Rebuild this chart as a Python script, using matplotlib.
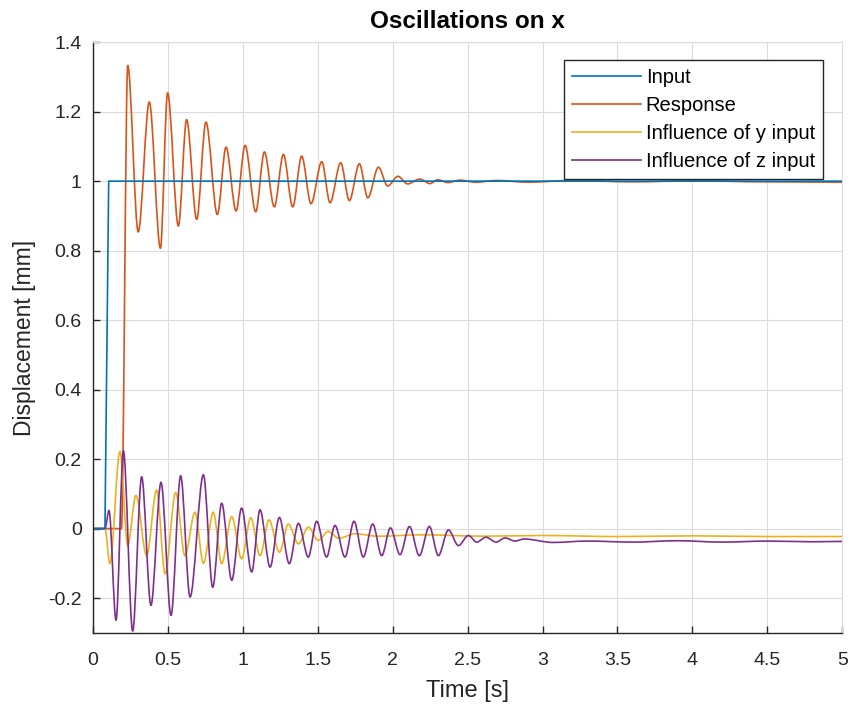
import matplotlib
matplotlib.use("Agg")
import matplotlib.pyplot as plt
from matplotlib.path import Path
from matplotlib.patches import PathPatch
from matplotlib.lines import Line2D

# values (extrema of each trace)
t_input = [0, 0.08, 0.105, 5]
x_input = [0, 0, 1, 1]

t_resp = [0, 0.19, 0.232, 0.302, 0.376, 0.45, 0.498, 0.570, 0.625, 0.692, 0.754, 0.830,
          0.888, 0.955, 1.015, 1.086, 1.144, 1.21, 1.271, 1.333, 1.393, 1.455, 1.527,
          1.582, 1.653, 1.711, 1.778, 1.834, 1.905, 1.967, 2.035, 2.10, 2.18, 2.25,
          2.30, 2.37, 2.45, 2.55, 2.7, 2.9, 3.2, 3.6, 4.0, 4.5, 5.0]
x_resp = [0, 0, 1.333, 0.854, 1.228, 0.807, 1.254, 0.871, 1.177, 0.890, 1.170, 0.904,
          1.098, 0.914, 1.103, 0.912, 1.084, 0.926, 1.077, 0.926, 1.072, 0.935, 1.056,
          0.938, 1.053, 0.944, 1.050, 0.952, 1.040, 0.986, 1.014, 0.992, 1.006, 0.993,
          1.004, 0.996, 1.003, 0.997, 1.002, 0.997, 1.002, 0.998, 1.001, 0.998, 0.997]

t_yin = [0, 0.08, 0.113, 0.18, 0.232, 0.287, 0.358, 0.425, 0.481, 0.552, 0.614, 0.681,
         0.737, 0.803, 0.859, 0.926, 0.992, 1.053, 1.115, 1.175, 1.244, 1.304, 1.371,
         1.437, 1.504, 1.57, 1.64, 1.75, 1.9, 2.2, 2.6, 3.0, 3.5, 4.0, 4.5, 5.0]
x_yin = [0, 0, -0.101, 0.222, -0.049, 0.095, -0.078, 0.111, -0.130, 0.104, -0.078, 0.047,
         -0.100, 0.047, -0.101, 0.034, -0.087, 0.031, -0.078, 0.025, -0.068, 0.013, -0.044,
         0.004, -0.034, -0.008, -0.028, -0.015, -0.022, -0.018, -0.022, -0.020, -0.023,
         -0.021, -0.023, -0.023]

t_zin = [0, 0.08, 0.107, 0.154, 0.203, 0.265, 0.325, 0.387, 0.454, 0.521, 0.585, 0.648,
         0.737, 0.799, 0.859, 0.926, 0.992, 1.059, 1.115, 1.182, 1.244, 1.310, 1.371,
         1.437, 1.493, 1.559, 1.615, 1.682, 1.742, 1.804, 1.867, 1.927, 1.985, 2.049,
         2.112, 2.178, 2.245, 2.305, 2.372, 2.439, 2.505, 2.561, 2.623, 2.69, 2.75,
         2.817, 2.877, 3.07, 3.3, 3.6, 3.9, 4.2, 4.5, 4.8, 5.0]
x_zin = [0, 0, 0.052, -0.264, 0.224, -0.295, 0.149, -0.221, 0.133, -0.250, 0.152, -0.197,
         0.155, -0.169, 0.073, -0.149, 0.059, -0.125, 0.054, -0.111, 0.032, -0.101, 0.015,
         -0.082, 0.021, -0.082, 0.009, -0.082, 0.021, -0.082, 0.013, -0.078, 0.002, -0.075,
         0.006, -0.078, 0.006, -0.078, -0.004, -0.049, -0.020, -0.039, -0.025, -0.039,
         -0.027, -0.036, -0.030, -0.040, -0.036, -0.039, -0.035, -0.039, -0.036, -0.038, -0.037]

labels = ["Input", "Response", "Influence of y input", "Influence of z input"]
colors = ["#0072BD", "#D95319", "#EDB120", "#7E2F8E"]


def smooth_curve(ax, t, y, color):
    # cubic bezier through the read extrema, flat tangent at each one
    verts = [(t[0], y[0])]
    codes = [Path.MOVETO]
    for i in range(1, len(t)):
        dt = (t[i] - t[i - 1]) / 3.0
        verts += [(t[i - 1] + dt, y[i - 1]), (t[i] - dt, y[i]), (t[i], y[i])]
        codes += [Path.CURVE4] * 3
    patch = PathPatch(Path(verts, codes), fill=False, edgecolor=color, lw=1.2,
                      transform=ax.transData, capstyle="round", joinstyle="round")
    ax.add_patch(patch)


plt.rcParams['font.family'] = ['Liberation Sans', 'DejaVu Sans']

fig = plt.figure(figsize=(8.49, 7.09), dpi=100)
ax = fig.add_axes([0.1095, 0.1075, 0.8825, 0.833])

ax.plot(t_input, x_input, color=colors[0], lw=1.2)
smooth_curve(ax, t_resp, x_resp, colors[1])
smooth_curve(ax, t_yin, x_yin, colors[2])
smooth_curve(ax, t_zin, x_zin, colors[3])

ax.set_xlim(0, 5)
ax.set_ylim(-0.3, 1.4)
ax.set_xticks([0, 0.5, 1, 1.5, 2, 2.5, 3, 3.5, 4, 4.5, 5])
ax.set_xticklabels(["0", "0.5", "1", "1.5", "2", "2.5", "3", "3.5", "4", "4.5", "5"])
ax.set_yticks([-0.2, 0, 0.2, 0.4, 0.6, 0.8, 1, 1.2, 1.4])
ax.set_yticklabels(["-0.2", "0", "0.2", "0.4", "0.6", "0.8", "1", "1.2", "1.4"])

ax.grid(True, color="#dcdcdc", lw=0.8)
ax.set_axisbelow(True)
for s in ["top", "right"]:
    ax.spines[s].set_color("#dcdcdc")
    ax.spines[s].set_linewidth(0.8)
for s in ["left", "bottom"]:
    ax.spines[s].set_color("#262626")
    ax.spines[s].set_linewidth(1.0)
ax.tick_params(direction="in", length=5, width=1.0, color="#262626",
               labelsize=14, labelcolor="#262626")
ax.tick_params(axis="x", pad=14)
ax.tick_params(axis="y", pad=8)

ax.set_xlabel("Time [s]", fontsize=17, color="#262626")
ax.set_ylabel("Displacement [mm]", fontsize=16.5, color="#262626")
ax.xaxis.set_label_coords(0.5, -0.080)
ax.yaxis.set_label_coords(-0.076, 0.5)
ax.set_title("Oscillations on x", fontsize=17.5, fontweight="bold", pad=10)

handles = [Line2D([], [], color=c, lw=1.2) for c in colors]
leg = ax.legend(handles, labels, loc="upper right", bbox_to_anchor=(0.9746, 0.9695),
                fontsize=14.5, frameon=True, fancybox=False, edgecolor="#262626",
                framealpha=1, handlelength=3.4, handletextpad=0.25, borderpad=0.4,
                labelspacing=0.44, borderaxespad=0)
leg.get_frame().set_linewidth(1.0)

fig.savefig("out.png", dpi=100)
